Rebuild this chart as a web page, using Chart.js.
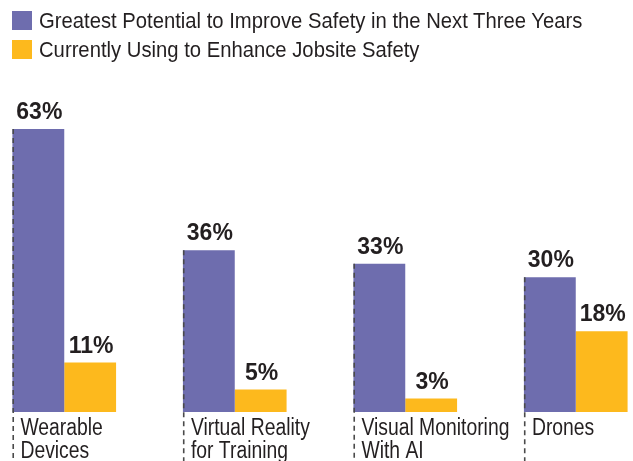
<!DOCTYPE html>
<html>
<head>
<meta charset="utf-8">
<script src="https://cdn.jsdelivr.net/npm/chart.js@4.4.0/dist/chart.umd.min.js"></script>
<style>
html, body { margin: 0; padding: 0; background: #fff; }
#wrap { position: relative; width: 633px; height: 461px; overflow: hidden; }
#legend { position: absolute; left: 12px; top: 6px; z-index: 2; font-family: 'Liberation Sans', Arial, sans-serif; font-size: 22px; color: #231f20; }
.item { display: flex; align-items: center; height: 29px; white-space: nowrap; }
.box { width: 20px; height: 19px; margin-right: 7px; flex: none; }
.txt { display: inline-block; transform-origin: 0 50%; }
#box { position: absolute; left: -21.4px; top: 0; width: 682px; height: 461px; }
</style>
</head>
<body>
<div id="wrap">
  <div id="legend"></div>
  <div id="box"><canvas id="myChart"></canvas></div>
</div>
<script>
// DADOS
const categories = [['Wearable', 'Devices'], ['Virtual Reality', 'for Training'], ['Visual Monitoring', 'With AI'], ['Drones']];
const seriesNames = ['Greatest Potential to Improve Safety in the Next Three Years', 'Currently Using to Enhance Jobsite Safety'];
const potential = [63, 36, 33, 30];
const currentUse = [11, 5, 3, 18];

const purple = '#6e6dae';
const yellow = '#fdb91d';
const textColor = '#231f20';
const condFont = "'Liberation Sans', Arial, sans-serif";

// fatores para imitar a fonte condensada
const mctx = document.createElement('canvas').getContext('2d');
mctx.font = '22px ' + condFont;
const legendSqueeze = 544 / mctx.measureText(seriesNames[0]).width;
mctx.font = '23px ' + condFont;
const catSqueeze = 148 / mctx.measureText(categories[2][0]).width;

const labelsPlugin = {
    id: 'labelsPlugin',
    afterDatasetsDraw(chart) {
        const ctx = chart.ctx;
        const area = chart.chartArea;
        const m0 = chart.getDatasetMeta(0);
        ctx.save();

        // linhas tracejadas
        m0.data.forEach(bar => {
            const left = bar.x - bar.width / 2;
            ctx.strokeStyle = '#4a4a4a';
            ctx.lineWidth = 1.6;
            ctx.setLineDash([5, 4]);
            ctx.beginPath();
            ctx.moveTo(left + 0.8, bar.y);
            ctx.lineTo(left + 0.8, chart.height);
            ctx.stroke();
        });
        ctx.setLineDash([]);

        // valores
        ctx.fillStyle = textColor;
        ctx.font = 'bold 23px ' + condFont;
        ctx.textAlign = 'center';
        ctx.textBaseline = 'alphabetic';
        chart.data.datasets.forEach((ds, i) => {
            chart.getDatasetMeta(i).data.forEach((bar, j) => {
                ctx.fillText(ds.data[j] + '%', bar.x + 1, bar.y - 10);
            });
        });

        // categorias
        ctx.font = '23px ' + condFont;
        ctx.textAlign = 'left';
        m0.data.forEach((bar, j) => {
            const left = bar.x - bar.width / 2 + 8;
            categories[j].forEach((line, k) => {
                ctx.save();
                ctx.translate(left, area.bottom + 23 + k * 22.5);
                ctx.scale(catSqueeze, 1);
                ctx.fillText(line, 0, 0);
                ctx.restore();
            });
        });
        ctx.restore();
    }
};

const ctx = document.getElementById('myChart').getContext('2d');
const myChart = new Chart(ctx, {
    type: 'bar',
    data: {
        labels: categories,
        datasets: [
            {
                label: seriesNames[0],
                data: potential,
                backgroundColor: purple,
                borderWidth: 0,
                categoryPercentage: 0.608,
                barPercentage: 1
            },
            {
                label: seriesNames[1],
                data: currentUse,
                backgroundColor: yellow,
                borderWidth: 0,
                categoryPercentage: 0.608,
                barPercentage: 1
            }
        ]
    },
    options: {
        responsive: true,
        maintainAspectRatio: false,
        animation: false,
        layout: { padding: { top: 97.5, bottom: 49, left: 0, right: 0 } },
        scales: {
            x: { display: false },
            y: { display: false, min: 0, max: 70 }
        },
        plugins: {
            legend: { display: false },
            tooltip: { enabled: false }
        }
    },
    plugins: [labelsPlugin]
});

// LEGENDA
const legend = document.getElementById('legend');
myChart.data.datasets.forEach(ds => {
    const item = document.createElement('div');
    item.className = 'item';
    item.innerHTML = '<span class="box" style="background:' + ds.backgroundColor + '"></span><span class="txt" style="transform:scaleX(' + legendSqueeze + ')">' + ds.label + '</span>';
    legend.appendChild(item);
});
</script>
</body>
</html>
